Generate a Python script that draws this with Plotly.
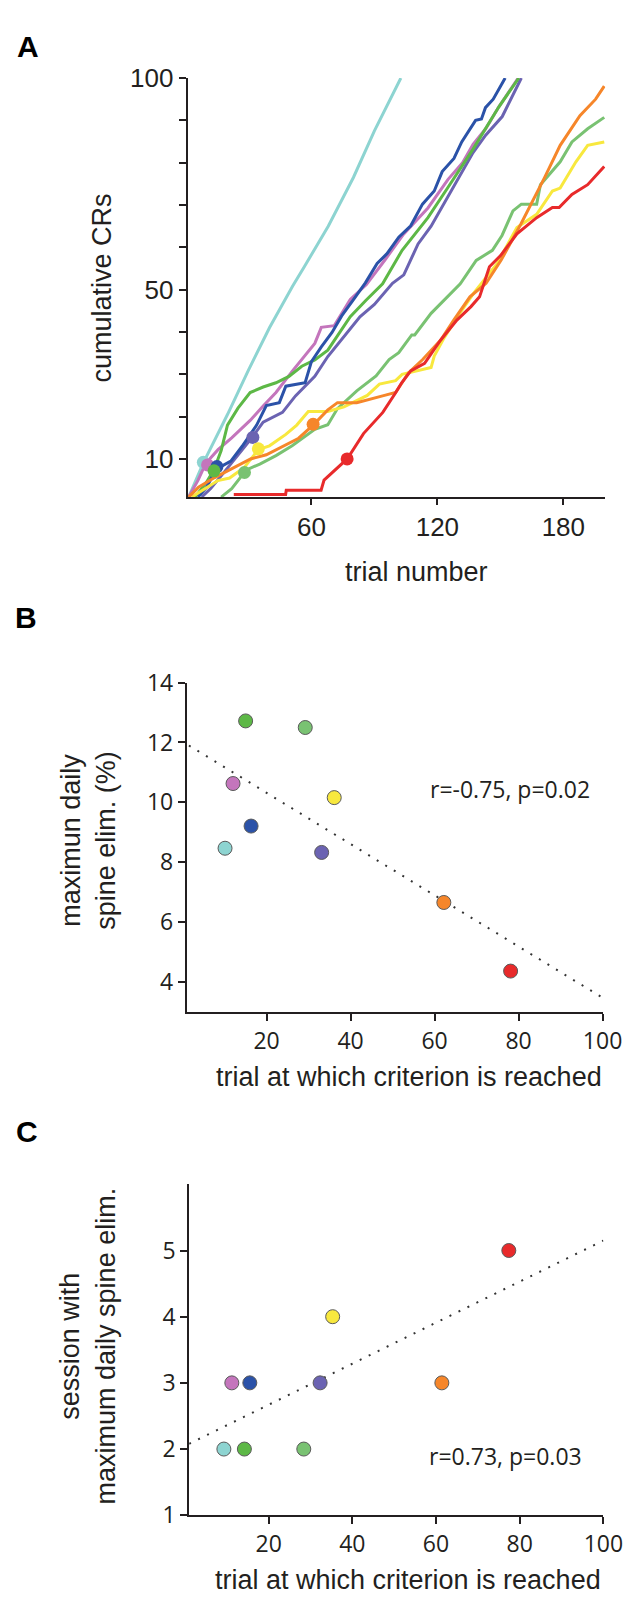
import plotly.graph_objects as go

W, H = 639, 1598

# ---------------- Panel A data: cumulative CRs vs trial number ----------------
cyan_trial = [1.5, 8.5, 20, 30, 40, 51, 56.6, 61.3, 68, 80, 90, 102.6]
cyan_cr = [1, 9.1, 20.5, 31, 41, 50.8, 55.4, 59.3, 65, 76.5, 87.5, 100]

pink_trial = [1.5, 6, 9.6, 15.5, 22, 30.8, 37, 43.1, 50.8, 56, 61.6, 64.7, 70.9, 78.5, 86.2, 95, 103.9, 115.5, 125, 132, 137, 143, 149.3, 158.5]
pink_cr = [1, 5, 8.9, 12.2, 15, 19.1, 22.5, 25.7, 30.7, 34, 37.3, 41.1, 41.5, 47.7, 51.2, 57, 63.1, 69.3, 76, 80, 84.3, 88, 93.2, 100]

purple_trial = [7.7, 12, 17, 22, 27, 31.6, 37, 46.2, 52.4, 61.6, 67.8, 75, 83.1, 90, 98.6, 104, 110.8, 117, 124.7, 131, 137, 143, 150.9, 160]
purple_cr = [1, 3, 6, 9, 12, 15, 18.7, 21, 24.9, 29.5, 34.2, 38.5, 43.6, 46.5, 51.5, 53.5, 60.8, 65, 71.6, 77, 82.4, 86.5, 90.9, 100]

green_trial = [4.6, 10, 13.6, 17, 20, 25, 30.8, 37, 43.1, 49.3, 55.4, 61.6, 67.8, 78.5, 86, 93.9, 103.2, 115.5, 124.7, 137, 149.3, 158.8]
green_cr = [1, 4.5, 7.5, 12, 18, 22, 25.7, 27, 28, 29.5, 31.9, 33.4, 35.7, 43.6, 47.5, 51.4, 59.3, 67, 73.9, 83.2, 93.2, 100]

blue_trial = [6, 10, 14.7, 21.6, 27, 33.9, 38.5, 44.7, 47.8, 57, 60, 64.7, 69.8, 74.4, 80.1, 85.7, 91.3, 96, 101.6, 107.3, 112.9, 118.5, 122.3, 127.9, 131.6, 138.2, 141, 142.9, 146.6, 152.3]
blue_cr = [1, 3.3, 7.6, 9.5, 13, 18, 22.6, 23.3, 27.2, 28, 33, 36.5, 39.9, 43.8, 47.7, 51.6, 56.2, 58.5, 62.4, 65.1, 70.2, 73.3, 77.9, 81, 84.9, 90, 90.3, 93, 95, 100]

lgreen_trial = [17, 22, 26, 28, 35.4, 43.1, 50.8, 56, 61.6, 67.8, 72.4, 81.6, 90.8, 97, 101.6, 107.8, 109.2, 117, 124.7, 130.9, 138.5, 146.2, 150.8, 156, 160, 167.3, 169.1, 178.5, 184.1, 191.6, 199.5]
lgreen_cr = [1, 3, 5.5, 7.2, 8.8, 10.8, 13.1, 15, 17, 18.1, 21.9, 26.1, 29.6, 33.5, 35.1, 39.3, 39.3, 44.4, 48.3, 51.4, 56.9, 59.3, 62.8, 68.6, 70.2, 70.2, 74.8, 80.2, 84.9, 88, 90.7]

yellow_trial = [3, 8, 15.4, 21, 28, 34.7, 40, 47.8, 53, 58.5, 67.8, 75.5, 86.6, 92.4, 100.1, 103.2, 117, 118.5, 123.2, 129.8, 137.3, 148.5, 157.9, 167.3, 174.8, 178.5, 186, 191.6, 199.5]
yellow_cr = [1, 2.5, 4.9, 5.5, 8, 12.2, 13.1, 15.8, 18, 21.2, 21.2, 22.3, 25, 27.7, 28.5, 30, 31.6, 34.3, 38.6, 43.8, 49.2, 56.2, 64.7, 67.8, 73.3, 74, 80.2, 84.1, 84.9]

orange_trial = [1.5, 6.2, 13.9, 20.1, 24.7, 31, 38.5, 46.2, 53.9, 60.8, 67.8, 72.4, 81.6, 93.9, 100.1, 106.2, 113, 121.6, 127.8, 135.5, 143.2, 150.4, 159.8, 171, 178.5, 187.9, 195.4, 199.5]
orange_cr = [1, 3.3, 5.6, 7.2, 8.3, 10, 11, 12.9, 14.9, 18, 21.6, 23.3, 23.3, 24.9, 25.7, 30.3, 33.5, 38.1, 42.8, 48.3, 51.5, 57, 65.5, 76.4, 84.1, 91.1, 95, 98.1]

red_trial = [23, 47.7, 48, 64.6, 66, 71.6, 77, 84.8, 90.4, 94, 99.8, 103, 107.3, 113.9, 121.6, 129.3, 136, 140.1, 144.8, 150, 157.9, 167.3, 174.8, 178, 184.1, 191.6, 199.5]
red_cr = [1.6, 1.6, 2.6, 2.6, 5, 7.5, 10, 16, 19.2, 21, 25.4, 28, 30.8, 32.6, 38.1, 42.8, 46, 48.3, 55.4, 58, 63.2, 67, 69.4, 69.4, 72.5, 74.8, 79.1]

# criterion points on the curves (panel A)
crit_names = ["cyan", "pink", "blue", "green", "lgreen", "purple", "yellow", "orange", "red"]
crit_trial_A = [8.5, 10.5, 15.0, 13.6, 28.1, 32.1, 34.7, 60.8, 77.0]
crit_cr_A = [9.2, 8.6, 8.2, 7.2, 6.8, 15.1, 12.4, 18.2, 10.0]

# ---------------- Panel B data ----------------
B_trial = [10.1, 12.0, 15.0, 16.3, 29.2, 33.1, 36.1, 62.2, 78.1]
B_elim = [8.47, 10.63, 12.72, 9.21, 12.5, 8.33, 10.16, 6.66, 4.37]
B_names = ["cyan", "pink", "green", "blue", "lgreen", "purple", "yellow", "orange", "red"]
B_fit_x = [1.5, 100]
B_fit_y = [11.9, 3.48]

# ---------------- Panel C data ----------------
C_trial = [9.3, 11.2, 14.2, 15.5, 28.4, 32.3, 35.3, 61.4, 77.4]
C_session = [2, 3, 2, 3, 2, 3, 4, 3, 5]
C_names = ["cyan", "pink", "green", "blue", "lgreen", "purple", "yellow", "orange", "red"]
C_fit_x = [1, 100]
C_fit_y = [2.08, 5.15]

A_yticks = [10, 20, 30, 40, 50, 60, 70, 80, 90, 100]
A_yticktext = ["10", "", "", "", "50", "", "", "", "", "100"]
A_xticks = [60, 120, 180]
B_yticks = [4, 6, 8, 10, 12, 14]
BC_xticks = [20, 40, 60, 80, 100]
C_yticks = [1, 2, 3, 4, 5]

COL = {
    "cyan": "#8DD4D1",
    "pink": "#C475BC",
    "blue": "#2B52A8",
    "green": "#5DB846",
    "purple": "#6B63B2",
    "lgreen": "#79C272",
    "yellow": "#F8E83E",
    "orange": "#F6862A",
    "red": "#E82A2B",
}

curves = [
    ("cyan", cyan_trial, cyan_cr),
    ("pink", pink_trial, pink_cr),
    ("purple", purple_trial, purple_cr),
    ("green", green_trial, green_cr),
    ("blue", blue_trial, blue_cr),
    ("lgreen", lgreen_trial, lgreen_cr),
    ("yellow", yellow_trial, yellow_cr),
    ("orange", orange_trial, orange_cr),
    ("red", red_trial, red_cr),
]

fig = go.Figure()

for name, xs, ys in curves:
    fig.add_trace(go.Scatter(x=xs, y=ys, mode="lines", xaxis="x", yaxis="y",
                             line=dict(color=COL[name], width=3), showlegend=False,
                             hoverinfo="skip"))

fig.add_trace(go.Scatter(x=crit_trial_A, y=crit_cr_A, mode="markers", xaxis="x", yaxis="y",
                         marker=dict(size=13, color=[COL[n] for n in crit_names], line=dict(width=0)),
                         showlegend=False))

# Panel B
fig.add_trace(go.Scatter(x=B_fit_x, y=B_fit_y, mode="lines", xaxis="x2", yaxis="y2",
                         line=dict(color="#333333", width=2, dash="2px,8px"), showlegend=False))
fig.add_trace(go.Scatter(x=B_trial, y=B_elim, mode="markers", xaxis="x2", yaxis="y2",
                         marker=dict(size=14, color=[COL[n] for n in B_names],
                                     line=dict(width=1, color="#5a5a5a")), showlegend=False))

# Panel C
fig.add_trace(go.Scatter(x=C_fit_x, y=C_fit_y, mode="lines", xaxis="x3", yaxis="y3",
                         line=dict(color="#333333", width=2, dash="2px,8px"), showlegend=False))
fig.add_trace(go.Scatter(x=C_trial, y=C_session, mode="markers", xaxis="x3", yaxis="y3",
                         marker=dict(size=14, color=[COL[n] for n in C_names],
                                     line=dict(width=1, color="#5a5a5a")), showlegend=False))

AXC = "#231f20"
fontA = dict(family="Liberation Sans, Arial, sans-serif", size=26, color="#231f20")
fontBC = dict(family="Open Sans, Noto Sans, sans-serif", size=23, color="#231f20")

def ax(**kw):
    d = dict(showline=True, linewidth=2, linecolor=AXC, showgrid=False, zeroline=False,
             ticks="outside", tickwidth=2, tickcolor=AXC, ticklen=7, fixedrange=True)
    d.update(kw)
    return d

def px2x(p):
    return p / W

def px2y(p):
    return 1 - p / H

fig.update_layout(
    width=W, height=H,
    margin=dict(l=0, r=0, t=0, b=0),
    paper_bgcolor="white", plot_bgcolor="white",
    showlegend=False,
    xaxis=ax(domain=[px2x(185.4), px2x(616.6)], range=[1, 200], anchor="y",
             tickvals=A_xticks, tickfont=fontA, ticklen=6),
    yaxis=ax(domain=[px2y(481.7), px2y(54.1)], range=[1, 100], anchor="x",
             tickvals=A_yticks, ticktext=A_yticktext, tickfont=fontA),
    xaxis2=ax(domain=[px2x(184.6), px2x(613.8)], range=[1, 100], anchor="y2",
              tickvals=BC_xticks, tickfont=fontBC),
    yaxis2=ax(domain=[px2y(1007.3), px2y(671)], range=[3, 14], anchor="x2",
              tickvals=B_yticks, tickfont=fontBC),
    xaxis3=ax(domain=[px2x(187), px2x(614.6)], range=[1, 100], anchor="y3",
              tickvals=BC_xticks, tickfont=fontBC),
    yaxis3=ax(domain=[px2y(1520.7), px2y(1183)], range=[1, 6], anchor="x3",
              tickvals=C_yticks, tickfont=fontBC),
)

title_font = dict(family="Liberation Sans, Arial, sans-serif", size=27, color="#231f20")
label_font = dict(family="Liberation Sans, Arial, sans-serif", size=30, color="#000000")

annots = [
    dict(text="<b>A</b>", x=px2x(21), y=px2y(22), font=label_font),
    dict(text="<b>B</b>", x=px2x(19), y=px2y(605), font=label_font),
    dict(text="<b>C</b>", x=px2x(20), y=px2y(1129), font=label_font),
    dict(text="cumulative CRs", x=px2x(97), y=px2y(268), textangle=-90, font=title_font),
    dict(text="trial number", x=px2x(422), y=px2y(558), font=title_font),
    dict(text="maximun daily<br>spine elim. (%)", x=px2x(83), y=px2y(832), textangle=-90, font=title_font),
    dict(text="trial at which criterion is reached", x=px2x(414), y=px2y(1074), font=title_font),
    dict(text="session with<br>maximum daily spine elim.", x=px2x(82), y=px2y(1348), textangle=-90, font=title_font),
    dict(text="trial at which criterion is reached", x=px2x(413), y=px2y(1587), font=title_font),
    dict(text="r=-0.75, p=0.02", x=px2x(518), y=px2y(780), font=fontBC),
    dict(text="r=0.73, p=0.03", x=px2x(514), y=px2y(1460), font=fontBC),
]
for a in annots:
    a.update(xref="paper", yref="paper", showarrow=False, xanchor="center", yanchor="middle")
fig.update_layout(annotations=annots)

fig.write_html("out.html")
